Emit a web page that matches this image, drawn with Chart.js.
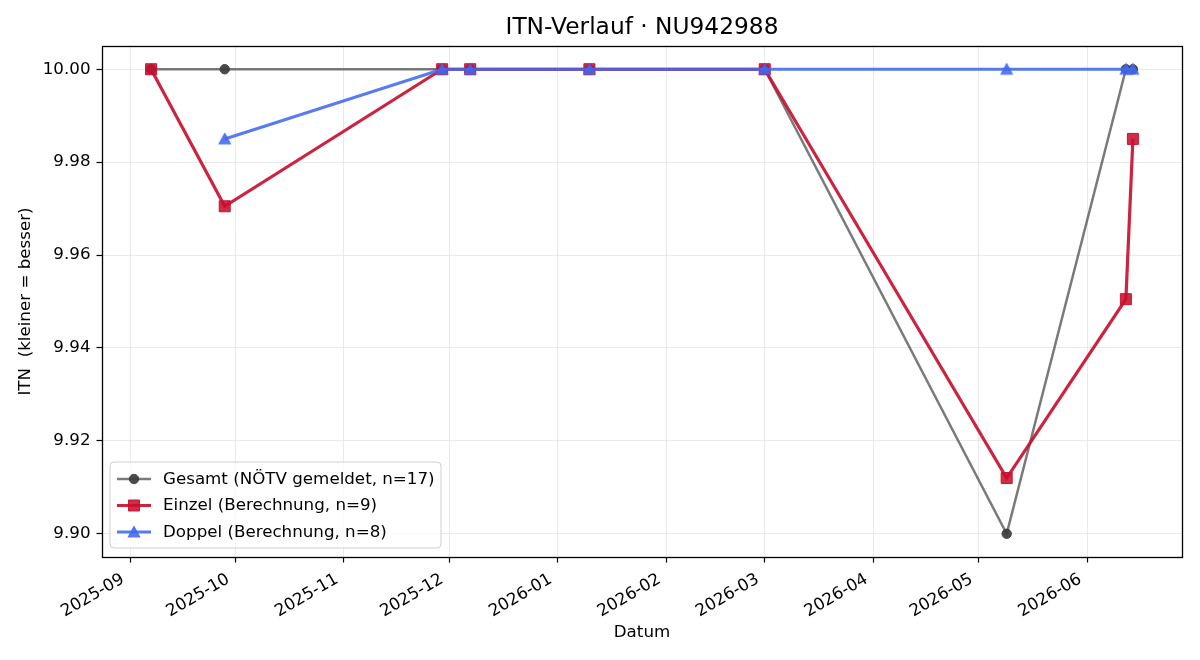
<!DOCTYPE html>
<html>
<head>
<meta charset="utf-8">
<script src="https://cdn.jsdelivr.net/npm/chart.js@4.4.1/dist/chart.umd.min.js"></script>
<style>
html,body{margin:0;padding:0;background:#fff;}
#c{display:block;}
</style>
</head>
<body>
<canvas id="c" width="1200" height="660"></canvas>
<script>
// ---- data ----
const chartTitle = 'ITN-Verlauf · NU942988';
const xTitle = 'Datum';
const yTitle = 'ITN  (kleiner = besser)';

const gesamtDates = ['2025-09-07','2025-09-28','2025-11-29','2025-12-07','2026-01-10','2026-03-01','2026-05-09','2026-06-12','2026-06-14'];
const gesamtValues = [10.00, 10.00, 10.00, 10.00, 10.00, 10.00, 9.90, 10.00, 10.00];

const einzelDates = ['2025-09-07','2025-09-28','2025-11-29','2025-12-07','2026-01-10','2026-03-01','2026-05-09','2026-06-12','2026-06-14'];
const einzelValues = [10.00, 9.9705, 10.00, 10.00, 10.00, 10.00, 9.912, 9.9505, 9.985];

const doppelDates = ['2025-09-28','2025-11-29','2025-12-07','2026-01-10','2026-03-01','2026-05-09','2026-06-12','2026-06-14'];
const doppelValues = [9.985, 10.00, 10.00, 10.00, 10.00, 10.00, 10.00, 10.00];

const seriesLabels = ['Gesamt (NÖTV gemeldet, n=17)', 'Einzel (Berechnung, n=9)', 'Doppel (Berechnung, n=8)'];

const xTickLabels = ['2025-09','2025-10','2025-11','2025-12','2026-01','2026-02','2026-03','2026-04','2026-05','2026-06'];
const yTickValues = [9.90, 9.92, 9.94, 9.96, 9.98, 10.00];
const xRange = ['2025-08-24', '2026-06-28'];
const yRange = [9.895, 10.005];

// ---- helpers ----
function toMs(s){ const p = s.split('-').map(Number); return Date.UTC(p[0], p[1]-1, p[2] || 1); }
function pts(dates, vals){ return dates.map((d,i)=>({x: toMs(d), y: vals[i]})); }
function fmtMonth(v){ const d = new Date(v); const m = d.getUTCMonth()+1; return d.getUTCFullYear() + '-' + (m<10?'0':'') + m; }

const FONT = "'DejaVu Sans', sans-serif";
const FS = 16.7;

// matplotlib-like '^' marker (centered bbox)
function makeTriangle(fill){
  const c = document.createElement('canvas');
  c.width = 16; c.height = 16;
  const g = c.getContext('2d');
  g.beginPath();
  g.moveTo(8, 2.6); g.lineTo(13.6, 12.8); g.lineTo(2.4, 12.8); g.closePath();
  g.fillStyle = fill; g.fill();
  g.lineJoin = 'miter';
  g.strokeStyle = fill; g.lineWidth = 1.2; g.stroke();
  return c;
}
const BLUE = 'rgba(65,105,240,0.88)';
const triImg = makeTriangle(BLUE);

const datasets = [
  {
    label: seriesLabels[0], data: pts(gesamtDates, gesamtValues),
    borderColor: 'rgba(70,70,70,0.72)', borderWidth: 2.5,
    pointStyle: 'circle', pointRadius: 4.7,
    pointBackgroundColor: 'rgba(60,60,60,0.92)', pointBorderColor: 'rgba(60,60,60,0.92)', pointBorderWidth: 1,
    order: 3, tension: 0
  },
  {
    label: seriesLabels[1], data: pts(einzelDates, einzelValues),
    borderColor: 'rgba(200,16,46,0.92)', borderWidth: 3.2,
    pointStyle: 'rect', pointRadius: 7.8,
    pointBackgroundColor: 'rgba(200,16,46,0.88)', pointBorderColor: 'rgba(200,16,46,0.95)', pointBorderWidth: 1,
    order: 2, tension: 0
  },
  {
    label: seriesLabels[2], data: pts(doppelDates, doppelValues),
    borderColor: BLUE, borderWidth: 3.2,
    pointStyle: triImg, pointRadius: 6.5,
    pointBackgroundColor: BLUE, pointBorderColor: BLUE, pointBorderWidth: 1,
    order: 1, tension: 0
  }
];

const framePlugin = {
  id: 'frame',
  afterDraw(chart){
    const {ctx, chartArea: a} = chart;
    ctx.save();
    // title
    ctx.fillStyle = '#000';
    ctx.font = '23.3px ' + FONT;
    ctx.textAlign = 'center';
    ctx.textBaseline = 'middle';
    ctx.fillText(chartTitle, (a.left + a.right)/2, 27.5);
    // frame
    ctx.strokeStyle = '#000';
    ctx.lineWidth = 1.3;
    ctx.strokeRect(Math.round(a.left)+0.5, Math.round(a.top)+0.5, Math.round(a.right-a.left), Math.round(a.bottom-a.top));
    // legend
    const bx = 110, by = 462, bw = 331, bh = 86, r = 4;
    ctx.beginPath();
    ctx.moveTo(bx+r, by); ctx.lineTo(bx+bw-r, by); ctx.quadraticCurveTo(bx+bw, by, bx+bw, by+r);
    ctx.lineTo(bx+bw, by+bh-r); ctx.quadraticCurveTo(bx+bw, by+bh, bx+bw-r, by+bh);
    ctx.lineTo(bx+r, by+bh); ctx.quadraticCurveTo(bx, by+bh, bx, by+bh-r);
    ctx.lineTo(bx, by+r); ctx.quadraticCurveTo(bx, by, bx+r, by);
    ctx.closePath();
    ctx.fillStyle = 'rgba(255,255,255,0.8)';
    ctx.fill();
    ctx.strokeStyle = '#d0d0d0';
    ctx.lineWidth = 1;
    ctx.stroke();
    const rows = [479, 505.5, 532];
    chart.data.datasets.forEach((ds, i) => {
      const y = rows[i];
      ctx.beginPath();
      ctx.strokeStyle = ds.borderColor;
      ctx.lineWidth = ds.borderWidth;
      ctx.moveTo(117, y); ctx.lineTo(151, y);
      ctx.stroke();
      ctx.fillStyle = ds.pointBackgroundColor;
      ctx.strokeStyle = ds.pointBorderColor;
      ctx.lineWidth = ds.pointBorderWidth;
      Chart.helpers.drawPoint(ctx, {pointStyle: ds.pointStyle, radius: ds.pointRadius, rotation: 0, borderWidth: ds.pointBorderWidth}, 134, y);
      ctx.fillStyle = '#000';
      ctx.font = FS + 'px ' + FONT;
      ctx.textAlign = 'left';
      ctx.textBaseline = 'middle';
      ctx.fillText(ds.label, 163, y + 0.5);
    });
    ctx.restore();
  }
};

new Chart(document.getElementById('c'), {
  type: 'line',
  data: { datasets },
  options: {
    responsive: false,
    animation: false,
    devicePixelRatio: 1,
    layout: { padding: { left: 0, right: 18, top: 46, bottom: 0 } },
    plugins: { legend: { display: false }, tooltip: { enabled: false }, title: { display: false } },
    scales: {
      x: {
        type: 'linear',
        min: toMs(xRange[0]), max: toMs(xRange[1]),
        afterBuildTicks(s){ s.ticks = xTickLabels.map(t => ({ value: toMs(t + '-01') })); },
        afterFit(s){ s.height = 103; },
        ticks: {
          autoSkip: false, minRotation: 30, maxRotation: 30, padding: 7, labelOffset: -7,
          color: '#000', font: { family: FONT, size: FS },
          callback: (v) => fmtMonth(v)
        },
        grid: { color: '#e4e4e4', lineWidth: 0.8, tickColor: '#000', tickLength: 5.5, tickWidth: 1.2 },
        border: { display: false },
        title: { display: true, text: xTitle, color: '#000', font: { family: FONT, size: FS }, padding: { top: 0, bottom: 17 } }
      },
      y: {
        type: 'linear',
        min: yRange[0], max: yRange[1],
        afterBuildTicks(s){ s.ticks = yTickValues.map(v => ({ value: v })); },
        afterFit(s){ s.width = 102; },
        ticks: {
          padding: 6, color: '#000', font: { family: FONT, size: FS },
          callback: (v) => Number(v).toFixed(2)
        },
        grid: { color: '#e4e4e4', lineWidth: 0.8, tickColor: '#000', tickLength: 5.5, tickWidth: 1.2 },
        border: { display: false },
        title: { display: true, text: yTitle, color: '#000', font: { family: FONT, size: FS }, padding: { top: 15.5, bottom: 0 } }
      }
    }
  },
  plugins: [framePlugin]
});
</script>
</body>
</html>
